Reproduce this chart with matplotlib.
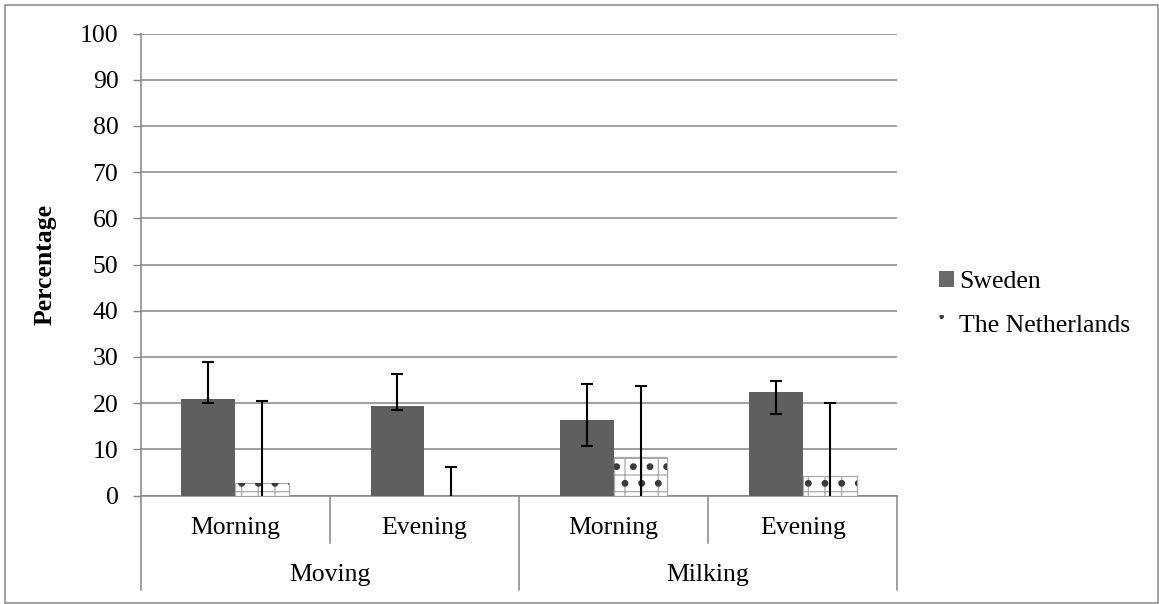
import matplotlib.pyplot as plt
import matplotlib.transforms as mtransforms
from matplotlib.patches import Patch, Rectangle
import numpy as np

plt.rcParams['font.family'] = ['Liberation Serif', 'DejaVu Serif']
plt.rcParams['hatch.linewidth'] = 0.9

# data
activities = ['Moving', 'Milking']
times = ['Morning', 'Evening', 'Morning', 'Evening']
sweden = [20.8, 19.3, 16.4, 22.4]
sweden_err_lo = [0.7, 0.8, 5.6, 4.7]
sweden_err_hi = [8.1, 6.9, 7.8, 2.3]
netherlands = [2.7, 0.0, 8.4, 4.3]
netherlands_err = [17.7, 6.1, 15.4, 15.8]
yticks = [0, 10, 20, 30, 40, 50, 60, 70, 80, 90, 100]

grey = '#868686'
fs = 18.5

fig = plt.figure(figsize=(11.59, 6.04), dpi=100)
ax = fig.add_axes([0.1214, 0.1796, 0.6528, 0.7649])

x = np.arange(len(times))
w = 0.285

ax.bar(x - w/2, sweden, w, color='#5f5f5f', zorder=3)
ax.errorbar(x - w/2, sweden, yerr=[sweden_err_lo, sweden_err_hi], fmt='none',
            ecolor='black', elinewidth=1.5, capsize=4.5, capthick=1.5, zorder=5)

ax.bar(x + w/2, netherlands, w, facecolor='white', edgecolor='#a8a8a8',
       hatch='+', linewidth=0.9, zorder=3)
with plt.rc_context({'hatch.linewidth': 2.5}):
    ax.bar(x + w/2, netherlands, w, facecolor='none', edgecolor='#3c3c3c',
           hatch='.', linewidth=0, zorder=4)
ax.errorbar(x + w/2, netherlands, yerr=netherlands_err, fmt='none',
            ecolor='black', elinewidth=1.5, capsize=4.5, capthick=1.5, zorder=5)

ax.set_xlim(-0.5, len(times) - 0.5)
ax.set_ylim(0, 100)
ax.set_yticks(yticks)
ax.tick_params(axis='y', labelsize=fs, length=6, width=1, color=grey, pad=10)
ax.tick_params(axis='x', bottom=False, labelbottom=False)
ax.grid(axis='y', color=grey, linewidth=1.1, zorder=0)
ax.set_axisbelow(True)
for s in ['top', 'right']:
    ax.spines[s].set_visible(False)
for s in ['left', 'bottom']:
    ax.spines[s].set_color(grey)
    ax.spines[s].set_linewidth(1.1)

ax.set_ylabel('Percentage', fontsize=fs, fontweight='bold')
ax.yaxis.set_label_coords(-0.111, 0.5)

# two-level category axis
trans = mtransforms.blended_transform_factory(ax.transData, ax.transAxes)
for i, t in enumerate(times):
    ax.text(i, -0.07, t, transform=trans, ha='center', va='center', fontsize=fs)
for j, a in enumerate(activities):
    ax.text(2*j + 0.5, -0.172, a, transform=trans, ha='center', va='center', fontsize=fs)
for xb in np.arange(-0.5, len(times), 1.0):
    bottom = -0.2045 if xb in (-0.5, 1.5, 3.5) else -0.103
    ax.plot([xb, xb], [0, bottom], transform=trans, color=grey, lw=1.1, clip_on=False)

with plt.rc_context({'hatch.linewidth': 2.5}):
    nl_handle = Patch(facecolor='white', edgecolor='#3c3c3c', hatch='.', linewidth=0,
                      label='The Netherlands')
handles = [Patch(facecolor='#6a6a6a', label='Sweden'), nl_handle]
fig.legend(handles=handles, loc='center left', bbox_to_anchor=(0.81, 0.497),
           frameon=False, fontsize=fs, handlelength=0.6, handleheight=0.6,
           handletextpad=0.2, labelspacing=0.85, borderpad=0, borderaxespad=0)

fig.patches.append(Rectangle((0.0043, 0.0017), 0.995, 0.9905, transform=fig.transFigure,
                             fill=False, edgecolor=grey, linewidth=1.1))

fig.savefig('out.png', dpi=100)
